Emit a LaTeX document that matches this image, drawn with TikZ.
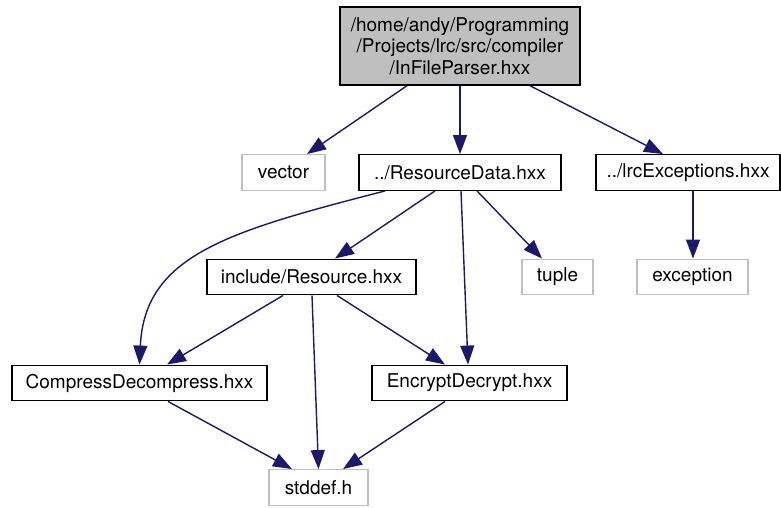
\documentclass[tikz,border=0pt]{standalone}
\usepackage{fontspec}
\setmainfont{TeX Gyre Heros}
\usetikzlibrary{arrows.meta}
\definecolor{edgeblue}{HTML}{191970}
\definecolor{boxgray}{HTML}{BFBFBF}
\tikzset{
  filebox/.style={draw=black, line width=1.4pt, rectangle, inner sep=0pt,
    font=\fontsize{19}{21.7}\selectfont, align=center, minimum height=35.5pt},
  sysbox/.style={filebox, draw=boxgray},
  rootbox/.style={filebox, fill=boxgray},
  dep/.style={draw=edgeblue, line width=1.4pt,
    -{Triangle[length=19pt,width=14pt,fill=edgeblue]}}
}
\begin{document}
\begin{tikzpicture}[x=1pt,y=-1pt]
\useasboundingbox (0,0) rectangle (781,507);

% file nodes
\node[rootbox, minimum width=240pt, minimum height=78pt] (top) at (460,46)
  {/home/andy/Programming\\/Projects/lrc/src/compiler\\/InFileParser.hxx};
\node[sysbox, minimum width=83pt] (vector) at (283.5,172.5) {vector};
\node[filebox, minimum width=202pt] (rdata) at (460,172.5) {../ResourceData.hxx};
\node[filebox, minimum width=184pt] (lrcx) at (688,172.5) {../lrcExceptions.hxx};
\node[filebox, minimum width=209pt] (res) at (311.5,277) {include/Resource.hxx};
\node[sysbox, minimum width=71pt] (tuple) at (557.5,277) {tuple};
\node[sysbox, minimum width=111pt] (exc) at (692.5,277) {exception};
\node[filebox, minimum width=255pt] (comp) at (139.5,383) {CompressDecompress.hxx};
\node[filebox, minimum width=195pt] (enc) at (469.5,383) {EncryptDecrypt.hxx};
\node[sysbox, minimum width=99pt] (stddef) at (318.5,487.5) {stddef.h};

% include dependencies
\draw[dep] ([xshift=-53pt]top.south) -- ([xshift=23.5pt]vector.north);
\draw[dep] (top.south) -- (rdata.north);
\draw[dep] ([xshift=70pt]top.south) -- ([xshift=-25pt]lrcx.north);
\draw[dep] ([xshift=-75pt]rdata.south) .. controls +(-155,40) and +(5,-110) .. (comp.north);
\draw[dep] ([xshift=-25pt]rdata.south) -- ([xshift=23.5pt]res.north);
\draw[dep] ([xshift=1pt]rdata.south) -- ([xshift=-1.5pt]enc.north);
\draw[dep] ([xshift=17pt]rdata.south) -- ([xshift=-15.5pt]tuple.north);
\draw[dep] ([xshift=5pt]lrcx.south) -- ([xshift=0.5pt]exc.north);
\draw[dep] ([xshift=-28.5pt]res.south) -- ([xshift=27.5pt]comp.north);
\draw[dep] ([xshift=0.5pt]res.south) -- (stddef.north);
\draw[dep] ([xshift=25.5pt]res.south) -- ([xshift=-24.5pt]enc.north);
\draw[dep] ([xshift=28.5pt]comp.south) -- ([xshift=-26.5pt]stddef.north);
\draw[dep] ([xshift=-24.5pt]enc.south) -- ([xshift=24.5pt]stddef.north);
\end{tikzpicture}
\end{document}
